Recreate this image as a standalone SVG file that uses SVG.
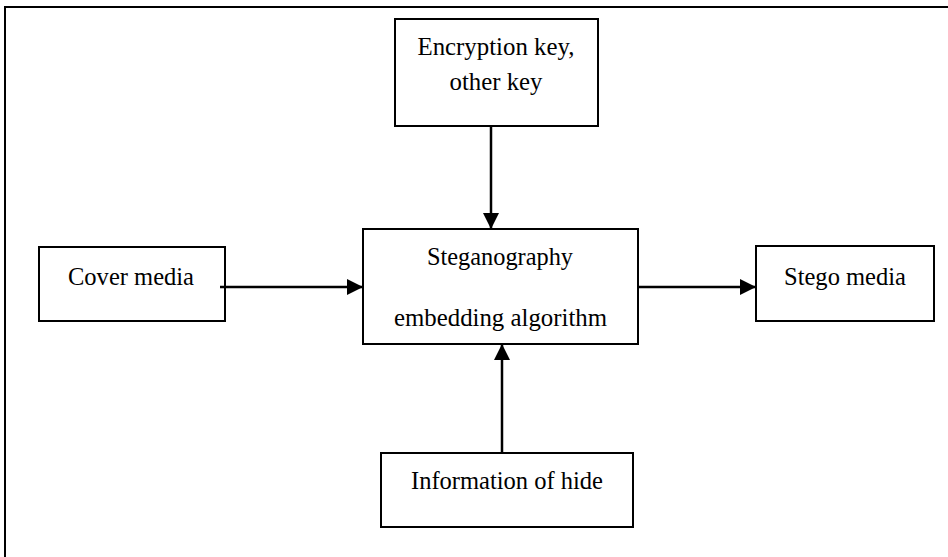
<svg xmlns="http://www.w3.org/2000/svg" width="948" height="557" viewBox="0 0 948 557">
<style>
.box{fill:#fff;stroke:#000;stroke-width:2}
.t{font-family:'Liberation Serif',Tinos,'Times New Roman',Times,serif;font-size:26px;fill:#000;text-anchor:middle}
.c{stroke:#000;stroke-width:2.5;fill:none}
</style>
<defs>
<marker id="ah" viewBox="0 0 16 16" refX="16" refY="8" markerWidth="16" markerHeight="16" markerUnits="userSpaceOnUse" orient="auto">
<path d="M0,0 L16,8 L0,16 Z" fill="#000"/>
</marker>
</defs>
<rect width="948" height="557" fill="#fff"/>
<path d="M5,557 V7 H948" fill="none" stroke="#000" stroke-width="2"/>
<g id="encryption">
<rect class="box" x="395" y="19" width="203" height="107"/>
<text class="t" x="496" y="55" textLength="157" lengthAdjust="spacingAndGlyphs">Encryption key,</text>
<text class="t" x="496" y="90" textLength="93" lengthAdjust="spacingAndGlyphs">other key</text>
</g>
<g id="cover">
<rect class="box" x="39" y="247" width="186" height="74"/>
<text class="t" x="131" y="285" textLength="126" lengthAdjust="spacingAndGlyphs">Cover media</text>
</g>
<g id="algorithm">
<rect class="box" x="363" y="229" width="275" height="115"/>
<text class="t" x="500" y="265" textLength="146" lengthAdjust="spacingAndGlyphs">Steganography</text>
<text class="t" x="500.5" y="326" textLength="213" lengthAdjust="spacingAndGlyphs">embedding algorithm</text>
</g>
<g id="stego">
<rect class="box" x="756" y="246" width="178" height="75"/>
<text class="t" x="845" y="285" textLength="122" lengthAdjust="spacingAndGlyphs">Stego media</text>
</g>
<g id="info">
<rect class="box" x="381" y="453" width="252" height="74"/>
<text class="t" x="507" y="489" textLength="192" lengthAdjust="spacingAndGlyphs">Information of hide</text>
</g>
<g id="connectors">
<line class="c" x1="491" y1="126" x2="491" y2="229" marker-end="url(#ah)"/>
<line class="c" x1="220" y1="287" x2="363" y2="287" marker-end="url(#ah)"/>
<line class="c" x1="638" y1="287" x2="756" y2="287" marker-end="url(#ah)"/>
<line class="c" x1="502" y1="453" x2="502" y2="344" marker-end="url(#ah)"/>
</g>
</svg>
